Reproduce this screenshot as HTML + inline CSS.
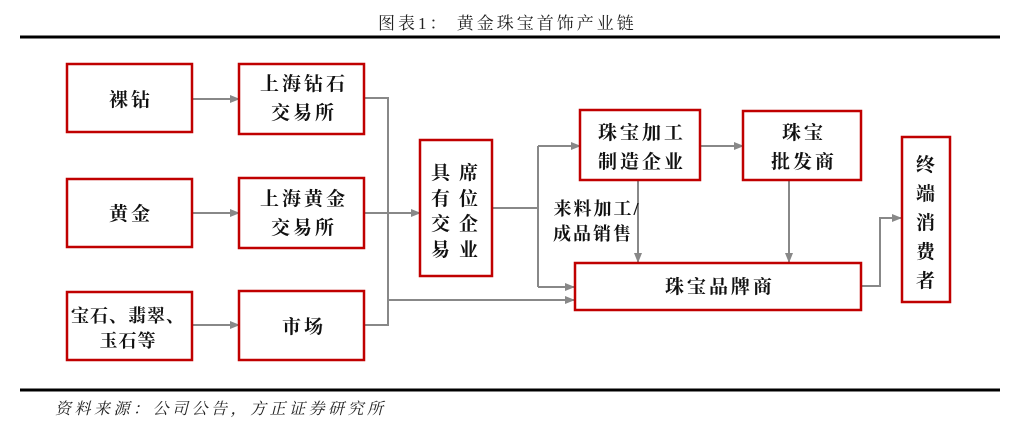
<!DOCTYPE html>
<html><head><meta charset="utf-8"><style>
html,body{margin:0;padding:0;background:#fff;}
svg{display:block}
text{font-family:"Liberation Serif","Noto Serif CJK SC",serif;}
.b{font-weight:bold;font-size:19px;fill:#111;text-anchor:middle;letter-spacing:3px}
</style></head><body>
<svg width="1028" height="442" viewBox="0 0 1028 442" xmlns="http://www.w3.org/2000/svg">
<defs><marker id="a" markerWidth="10" markerHeight="8" refX="9" refY="4" orient="auto" markerUnits="userSpaceOnUse"><path d="M0,0 L10,4 L0,8 z" fill="#888"/></marker></defs>
<text x="378" y="29" font-size="17" fill="#222" letter-spacing="3">图表1：  黄金珠宝首饰产业链</text>
<rect x="20" y="35.5" width="980" height="3" fill="#000"/>
<rect x="20" y="388.5" width="980" height="3" fill="#000"/>
<text x="55" y="414" font-size="16" font-style="italic" fill="#222" letter-spacing="3.5">资料来源：公司公告，方正证券研究所</text>
<g fill="none" stroke="#888" stroke-width="2">
<path d="M193,99 H239" marker-end="url(#a)"/>
<path d="M193,213 H239" marker-end="url(#a)"/>
<path d="M193,325 H239" marker-end="url(#a)"/>
<path d="M365,98 H388 V325 H365"/>
<path d="M365,213 H420" marker-end="url(#a)"/>
<path d="M388,300 H574" marker-end="url(#a)"/>
<path d="M492,208 H538"/>
<path d="M538,146 V287"/>
<path d="M538,146 H580" marker-end="url(#a)"/>
<path d="M538,287 H574" marker-end="url(#a)"/>
<path d="M700,146 H743" marker-end="url(#a)"/>
<path d="M638,180 V262" marker-end="url(#a)"/>
<path d="M789,180 V262" marker-end="url(#a)"/>
<path d="M862,286 H861 H880 V218 H901" marker-end="url(#a)"/>
</g>
<g fill="#fff" stroke="#c00000" stroke-width="2.5">
<rect x="67" y="64" width="125" height="68"/>
<rect x="239" y="64" width="125" height="70"/>
<rect x="67" y="179" width="125" height="68"/>
<rect x="239" y="178" width="125" height="70"/>
<rect x="67" y="292" width="125" height="68"/>
<rect x="239" y="291" width="125" height="69"/>
<rect x="420" y="140" width="72" height="136"/>
<rect x="580" y="110" width="120" height="70"/>
<rect x="743" y="111" width="118" height="69"/>
<rect x="575" y="263" width="286" height="47"/>
<rect x="902" y="137" width="48" height="165"/>
</g>
<text class="b" x="131" y="106">裸钻</text>
<text class="b" x="304" y="90">上海钻石</text>
<text class="b" x="304" y="119">交易所</text>
<text class="b" x="131" y="220">黄金</text>
<text class="b" x="304" y="205">上海黄金</text>
<text class="b" x="304" y="234">交易所</text>
<text class="b" x="128" y="322" style="font-size:18px;letter-spacing:1px">宝石、翡翠、</text>
<text class="b" x="128" y="347" style="font-size:18px;letter-spacing:1px">玉石等</text>
<text class="b" x="304" y="333">市场</text>
<text class="b" x="442" y="179">具</text><text class="b" x="470" y="179">席</text>
<text class="b" x="442" y="205">有</text><text class="b" x="470" y="205">位</text>
<text class="b" x="442" y="230">交</text><text class="b" x="470" y="230">企</text>
<text class="b" x="442" y="256">易</text><text class="b" x="470" y="256">业</text>
<text class="b" x="642" y="139">珠宝加工</text>
<text class="b" x="642" y="168">制造企业</text>
<text class="b" x="804" y="139">珠宝</text>
<text class="b" x="804" y="168">批发商</text>
<text class="b" x="720" y="293">珠宝品牌商</text>
<text class="b" x="597" y="215" style="font-size:18px;letter-spacing:2px">来料加工/</text>
<text class="b" x="593" y="240" style="font-size:18px;letter-spacing:2px">成品销售</text>
<text class="b" x="927" y="171">终</text>
<text class="b" x="927" y="200">端</text>
<text class="b" x="927" y="229">消</text>
<text class="b" x="927" y="258">费</text>
<text class="b" x="927" y="287">者</text>
</svg>
</body></html>
